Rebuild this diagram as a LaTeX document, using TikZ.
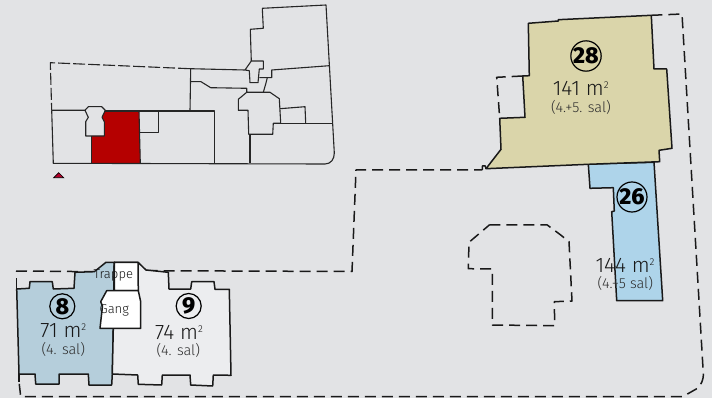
\documentclass[tikz,border=0pt]{standalone}
\usepackage{fontspec}
\setmainfont{Fira Sans Light}
\newfontfamily\numfont{Fira Sans ExtraBold}
\definecolor{bgcol}{HTML}{E2E3E5}
\definecolor{redcol}{HTML}{B50000}
\definecolor{crimson}{HTML}{B5002A}
\definecolor{olivecol}{HTML}{DAD5AA}
\definecolor{skycol}{HTML}{AED4EA}
\definecolor{steelcol}{HTML}{B5CEDB}
\definecolor{palecol}{HTML}{ECEDEF}
\definecolor{txtcol}{HTML}{181818}
\tikzset{
    wall/.style={line width=1.5pt,black!90,line join=round},
    cutwall/.style={wall,dash pattern=on 11pt off 6pt},
    mapline/.style={line width=1.1pt,black!85,line join=round},
    mapcut/.style={mapline,dash pattern=on 12pt off 3pt},
    roomnum/.style={draw,circle,line width=1.2pt,minimum size=25pt,inner sep=0pt,font=\fontsize{23}{23}\selectfont\numfont},
    roomarea/.style={text=txtcol,inner sep=0pt,font=\fontsize{21}{23}\selectfont},
    roomlevel/.style={text=txtcol!90,inner sep=0pt,font=\fontsize{14.5}{16}\selectfont},
    roomname/.style={text=txtcol,inner sep=0pt,font=\fontsize{13}{15}\selectfont}
}
\newcommand{\sqm}{m\raisebox{7pt}{\fontsize{10}{10}\selectfont 2}}
\begin{document}
\begin{tikzpicture}[x=1pt,y=-1pt]
    \fill[bgcol,use as bounding box] (0,0) rectangle (712,398);
    \fill[redcol] (105.3,111) -- (139,111) -- (140.3,163.3) -- (91.7,163.3) -- (91.7,136) -- (104.3,136) -- (104.3,121.7) -- (102,117.3) -- cycle;
    \draw[mapline] (190,68.7) -- (245,70) -- (251.3,61) -- (263.3,61) -- (263.3,69) -- (259.3,69) -- (258,82.7) -- (250,82.7) -- (249.3,70.7) -- (245,70);
    \draw[mapcut] (190,68.7) -- (50.3,62.7) -- (51.7,110.3);
    \draw[mapline] (51.7,110.3) -- (53.3,163.3) -- (325,164) .. controls (331,164) and (334.3,159) .. (334.3,153) -- (326,5) -- (262.3,8.3) -- (263.3,28.3) -- (250.3,29.3) -- (251.3,61);
    \draw[mapline] (329.3,65.7) -- (271.7,70) -- (271.7,77.7) -- (259.3,77.7);
    \draw[mapline] (267.3,77.7) -- (265.7,84) -- (263.3,92.3);
    \draw[mapline] (190,111) -- (190.7,68.7);
    \draw[mapline] (190.7,81.7) -- (201,81.7) -- (210.7,87.7) -- (246.7,88.3) -- (246.7,92.3) -- (238.3,99.3) -- (238.3,110.3) -- (248,110.3) -- (248.7,134.3) -- (272.7,134.3) -- (273.3,123.3) -- (280.7,123.3) -- (279.3,98.7) -- (270,92.3) -- (246.7,92.3);
    \draw[mapline] (280,108.7) -- (305,106.7) -- (305.7,123.3);
    \draw[mapline] (273.3,123.3) -- (332.7,123.3);
    \draw[mapline] (250,134.3) -- (250,163.3);
    \draw[mapline] (51.7,110.3) -- (85,110.3) -- (88.3,106.7) -- (101.7,106.7) -- (105.3,110.3) -- (102,117.3) -- (104.3,121.7) -- (104.3,136) -- (85.7,136) -- (85.7,121.7) -- (88.3,117.3) -- (85,110.3);
    \draw[mapline] (105.3,111) -- (214.3,111) -- (214.3,163.3);
    \draw[mapline] (140,132.3) -- (158.3,132.3) -- (158.3,111);
    \draw[mapline] (139,111) -- (140.3,163.3);
    \draw[mapline] (91.7,136) -- (91.7,163.3);
    \draw[fill=crimson,line width=0.7pt] (53.7,177.7) -- (58.7,172.7) -- (63.7,177.7) -- cycle;
    \draw[cutwall] (16,271) -- (94.3,271.7);
    \draw[cutwall] (146.7,270.7) -- (352,271.5) -- (356,170) -- (482.3,170);
    \draw[wall] (482.3,170) -- (482.3,166) -- (485.3,166) -- (486,168.7);
    \draw[cutwall] (651.3,15.3) -- (682,14) -- (703.3,373.3) .. controls (703.5,381) and (701,384) .. (698,388) -- (683,396.5) -- (20.7,396.5) -- (19,381.7);
    \draw[cutwall] (16.7,278.3) -- (16.7,289);
    \draw[cutwall] (522.7,76) -- (496.7,77.3) -- (499.7,118.3);
    \draw[cutwall] (489.3,225) -- (547.3,225) -- (560.7,235) -- (569,241.7) -- (572,301) -- (554.3,301.7) -- (554.7,325.7) -- (492.3,325) -- (492.3,269) -- (468.3,268.7) -- (469,242.3) -- cycle;
    \draw[wall,fill=skycol] (588.3,164) -- (654,162.3) -- (662.7,300.7) -- (616.7,300.7) -- (611.7,211.7) -- (614.3,211) -- (613.3,187.7) -- (590,188.3) -- cycle;
    \draw[wall,fill=olivecol] (528.3,23.3) -- (558.3,21) -- (558.3,19.7) -- (651.3,15.3) -- (654,69) -- (666.7,69) -- (672,148.3) -- (659,150.3) -- (659.7,161.7) -- (588.3,164.3) -- (486,168.7) -- (501,149.3) -- (499.7,118.3) -- (525,117.3) -- (522.7,76) -- (529.3,75.7) -- cycle;
    \draw[wall,fill=steelcol] (16.7,289) -- (29.3,288.3) -- (30,281.7) -- (52.3,281.7) -- (53.3,289) -- (74,288.3) -- (75,272.3) -- (94.3,271.7) -- (106,262.3) -- (114.3,262.3) -- (113.3,328.3) -- (112.3,374) -- (111.7,385) -- (89,385) -- (88.3,374) -- (59,374) -- (59,384) -- (35.7,384) -- (35,374) -- (19,374) -- cycle;
    \draw[wall,fill=palecol] (138,262.3) -- (146,270) -- (168.3,272.3) -- (169,289) -- (190.7,289) -- (191.7,281.7) -- (214,281.7) -- (215,289.3) -- (229.3,289.3) -- (231,375.3) -- (213.3,375) -- (212.7,386) -- (190.7,385) -- (190,375) -- (162.3,375) -- (161.7,385) -- (138.3,384.3) -- (137.7,375) -- (112.3,374) -- (113.3,328.3) -- (114.3,262.3) -- cycle;
    \draw[wall,fill=white] (114.3,262.3) -- (138,262.3) -- (138.3,290.7) -- (114.3,290.7) -- cycle;
    \draw[wall,fill=white] (106.7,290.7) -- (138.3,290.7) -- (140.7,301.7) -- (140.7,328.3) -- (100,328.3) -- (102.5,306) -- (100.7,301.7) -- cycle;
    \draw[wall] (19,374) -- (19,381.7);
    \node[roomname] (trappe) at (113.3,275) {Trappe};
    \node[roomname] (gang) at (114.3,310) {Gang};
    \node[roomnum] (num8) at (62.3,306.3) {8};
    \node[roomarea] (area8) at (63.3,331) {71 \sqm};
    \node[roomlevel] (level8) at (63.3,349.3) {(4. sal)};
    \node[roomnum] (num9) at (188.7,306) {9};
    \node[roomarea] (area9) at (179,332.3) {74 \sqm};
    \node[roomlevel] (level9) at (178.3,350.7) {(4. sal)};
    \node[roomnum] (num28) at (586,56) {28};
    \node[roomarea] (area28) at (580.7,88.3) {141 \sqm};
    \node[roomlevel] (level28) at (581,107.3) {(4.+5. sal)};
    \node[roomnum] (num26) at (632,197) {26};
    \node[roomarea] (area26) at (625,265) {144 \sqm};
    \node[roomlevel] (level26) at (625.3,283.3) {(4.+5 sal)};
\end{tikzpicture}
\end{document}
